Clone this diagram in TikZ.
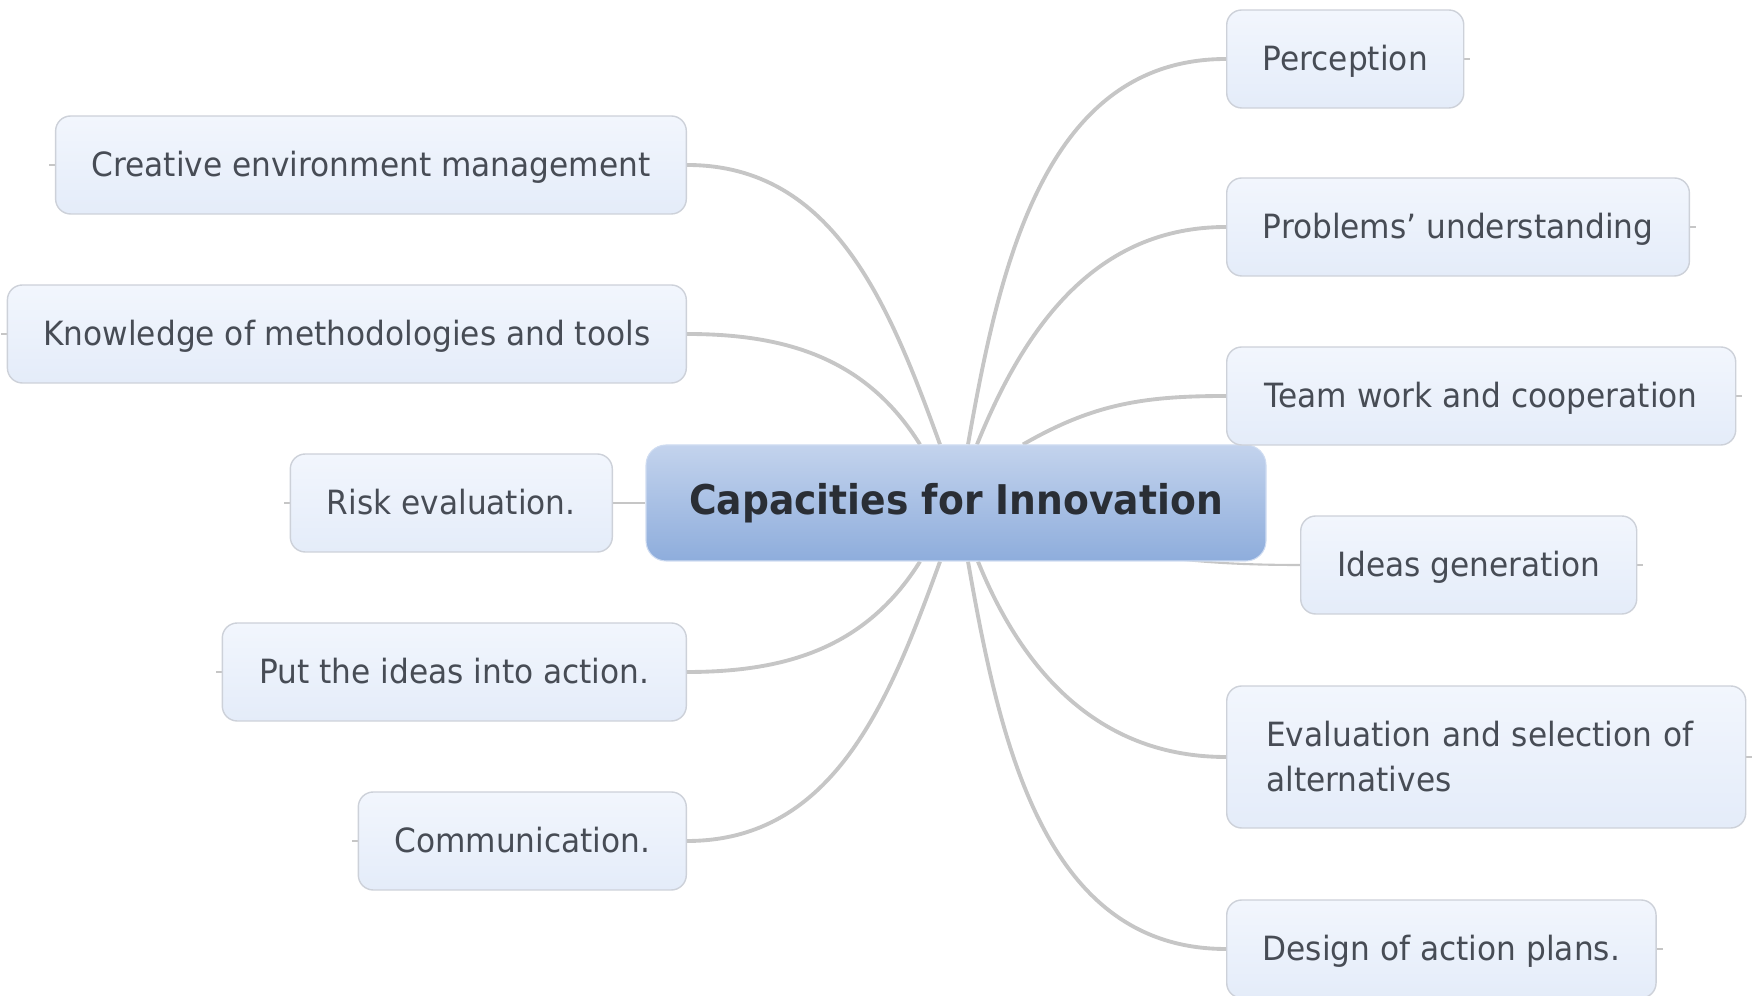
\documentclass[tikz,border=0pt]{standalone}
\usepackage{fontspec}
\setmainfont[FakeStretch=0.935, BoldFeatures={FakeStretch=0.92}]{DejaVu Sans}
\usepackage{tikz}
\usetikzlibrary{backgrounds}

\definecolor{childtop}{HTML}{F2F6FD}
\definecolor{childbot}{HTML}{E4ECF9}
\definecolor{childline}{HTML}{CDD1D9}
\definecolor{roottop}{HTML}{C3D3ED}
\definecolor{rootbot}{HTML}{8EADDC}
\definecolor{childtext}{HTML}{474C55}
\definecolor{roottext}{HTML}{2A2E35}
\definecolor{branchgray}{HTML}{C6C6C6}

\begin{document}
\begin{tikzpicture}[
        child/.style={rectangle, rounded corners=0.3cm, draw=childline, line width=0.8pt,
            top color=childtop, bottom color=childbot, text=childtext,
            minimum height=1.96cm, inner xsep=0.72cm,
            font=\fontsize{19}{25.6}\selectfont},
        leaf/.style={child, text height=0.64cm, text depth=0.16cm},
        root/.style={rectangle, rounded corners=0.4cm, draw=roottop!80!white, line width=0.6pt,
            top color=roottop, bottom color=rootbot, text=roottext,
            minimum width=12.4cm, minimum height=2.32cm,
            font=\fontsize{23.3}{28}\selectfont\bfseries},
        branch/.style={draw=branchgray, line width=2.2pt},
        thinbranch/.style={draw=branchgray, line width=1.2pt},
        stub/.style={draw=branchgray, line width=0.8pt}
    ]
        \useasboundingbox (0,0) rectangle (35.1,19.92);

        % Define nodes
        \node[root] (root) at (19.12,9.86) {Capacities for Innovation};

        \node[leaf, anchor=east, minimum width=12.6cm] (creative) at (13.74,16.62) {Creative environment management};
        \node[leaf, anchor=east, minimum width=13.54cm] (knowledge) at (13.74,13.24) {Knowledge of methodologies and tools};
        \node[leaf, anchor=east, minimum width=6.44cm] (risk) at (12.26,9.86) {Risk evaluation.};
        \node[leaf, anchor=east, minimum width=9.28cm] (action) at (13.74,6.48) {Put the ideas into action.};
        \node[leaf, anchor=east, minimum width=6.56cm] (comm) at (13.74,3.10) {Communication.};

        \node[leaf, anchor=west, minimum width=4.7cm] (perception) at (24.52,18.74) {Perception};
        \node[leaf, anchor=west, minimum width=9.2cm] (problems) at (24.52,15.38) {Problems’ understanding};
        \node[leaf, anchor=west, minimum width=10.18cm] (team) at (24.52,12.0) {Team work and cooperation};
        \node[leaf, anchor=west, minimum width=6.72cm] (ideas) at (26.0,8.62) {Ideas generation};
        \node[child, anchor=west, minimum height=2.84cm, text width=8.8cm, inner xsep=0.79cm, align=left] (evaluation) at (24.52,4.78) {Evaluation and selection of alternatives};
        \node[leaf, anchor=west, minimum width=8.56cm] (design) at (24.52,0.94) {Design of action plans.};

        % Draw edges
        \begin{scope}[on background layer]
            \foreach \n/\dx/\a in {creative/-0.32/110, knowledge/-0.72/122}
                \draw[branch] ([xshift=\dx cm]root.north) to[out=\a, in=0] (\n.east);
            \foreach \n/\dx/\a in {action/-0.72/-122, comm/-0.32/-110}
                \draw[branch] ([xshift=\dx cm]root.south) to[out=\a, in=0] (\n.east);
            \foreach \n/\dx/\a in {perception/0.24/80, problems/0.42/68, team/1.34/30}
                \draw[branch] ([xshift=\dx cm]root.north) to[out=\a, in=180] (\n.west);
            \foreach \n/\dx/\a in {design/0.24/-80, evaluation/0.44/-68}
                \draw[branch] ([xshift=\dx cm]root.south) to[out=\a, in=180] (\n.west);
            \draw[thinbranch] (root.west) -- (risk.east);
            \draw[thinbranch] (root.center) to[out=-20, in=180] (ideas.west);

            % small stubs on the outer sides
            \foreach \n in {creative, knowledge, risk, action, comm}
                \draw[stub] (\n.west) -- ++(-0.12,0);
            \foreach \n in {perception, problems, team, ideas, evaluation, design}
                \draw[stub] (\n.east) -- ++(0.12,0);
        \end{scope}
    \end{tikzpicture}
\end{document}
